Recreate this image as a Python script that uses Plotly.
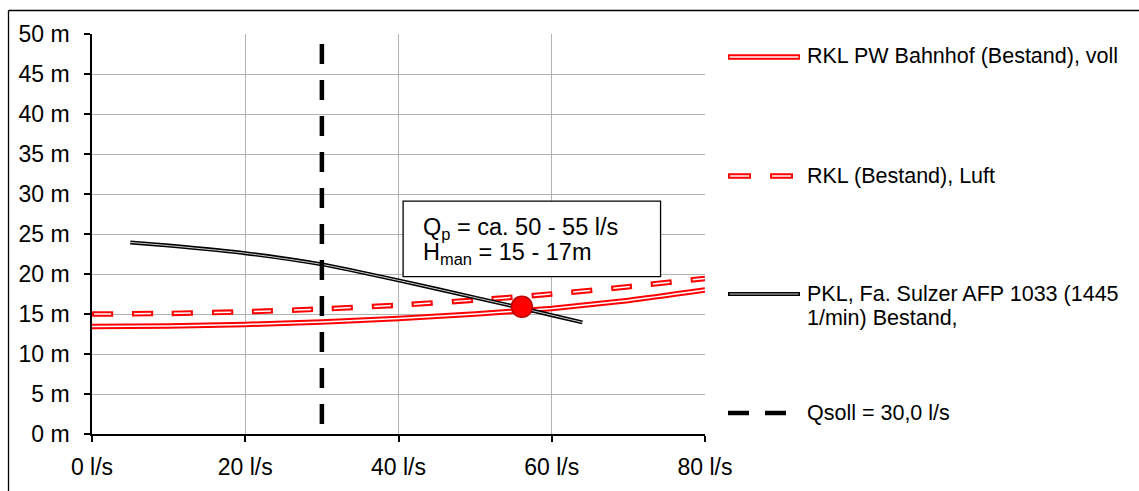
import plotly.graph_objects as go

# ---------------- data ----------------
q_rkl = [0, 10, 20, 30, 40, 50, 60, 70, 80]
h_rkl_voll = [13.45, 13.5, 13.7, 14.0, 14.45, 15.0, 15.7, 16.7, 18.0]
h_rkl_luft = [15.0, 15.07, 15.28, 15.63, 16.11, 16.74, 17.5, 18.41, 19.45]

q_pkl = [5, 10, 20, 30, 40, 50, 56, 60, 64]
h_pkl = [23.95, 23.55, 22.6, 21.2, 19.2, 17.05, 15.75, 14.85, 13.95]

q_soll = [30, 30]
h_soll = [48.75, 0]

q_op = [56.1]
h_op = [15.9]

names = [
    "RKL PW Bahnhof (Bestand), voll",
    "RKL (Bestand), Luft",
    "PKL, Fa. Sulzer AFP 1033 (1445<br>1/min) Bestand,",
    "Qsoll = 30,0 l/s",
]

x_tickvals = [0, 20, 40, 60, 80]
x_ticktext = ["0 l/s", "20 l/s", "40 l/s", "60 l/s", "80 l/s"]
y_tickvals = [0, 5, 10, 15, 20, 25, 30, 35, 40, 45, 50]
y_ticktext = ["0 m", "5 m", "10 m", "15 m", "20 m", "25 m", "30 m", "35 m", "40 m", "45 m", "50 m"]

box_text1 = "Q<sub>p</sub> = ca. 50 - 55 l/s"
box_text2 = "H<sub>man</sub> = 15 - 17m"
box_x = [40.6, 74.2]
box_y = [19.66, 29.1]

# ---------------- layout geometry ----------------
W, H = 1139, 491
L, R, T, B = 92, 434, 34, 57
PW, PH = W - L - R, H - T - B


def px(x):
    return (x - L) / PW


def py(y):
    return (H - B - y) / PH


FONT = "Liberation Sans, Arial, sans-serif"
RED = "#FF0000"

fig = go.Figure()

# red solid (double line)
fig.add_trace(go.Scatter(x=q_rkl, y=h_rkl_voll, mode="lines", name=names[0],
                         line=dict(color=RED, width=5.5, shape="spline", smoothing=0.6),
                         showlegend=False, hoverinfo="skip"))
fig.add_trace(go.Scatter(x=q_rkl, y=h_rkl_voll, mode="lines",
                         line=dict(color="white", width=1.5, shape="spline", smoothing=0.6),
                         showlegend=False, hoverinfo="skip"))
# red dashed (double line)
fig.add_trace(go.Scatter(x=q_rkl, y=h_rkl_luft, mode="lines", name=names[1],
                         line=dict(color=RED, width=5.5, dash="21px,19px", shape="spline", smoothing=0.6),
                         showlegend=False, hoverinfo="skip"))
fig.add_trace(go.Scatter(x=q_rkl, y=h_rkl_luft, mode="lines",
                         line=dict(color="white", width=1.5, dash="0px,2px,17px,21px", shape="spline", smoothing=0.6),
                         showlegend=False, hoverinfo="skip"))
# black pump curve
fig.add_trace(go.Scatter(x=q_pkl, y=h_pkl, mode="lines", name=names[2],
                         line=dict(color="black", width=4, shape="spline", smoothing=0.6),
                         showlegend=False, hoverinfo="skip"))
fig.add_trace(go.Scatter(x=q_pkl, y=h_pkl, mode="lines",
                         line=dict(color="#E8E8E8", width=0.9, shape="spline", smoothing=0.6),
                         showlegend=False, hoverinfo="skip"))
# Qsoll
fig.add_trace(go.Scatter(x=q_soll, y=h_soll, mode="lines", name=names[3],
                         line=dict(color="black", width=4.5, dash="20px,16px"),
                         showlegend=False, hoverinfo="skip"))
# operating point
fig.add_trace(go.Scatter(x=q_op, y=h_op, mode="markers",
                         marker=dict(size=21, color=RED, line=dict(color="#C00000", width=1.5)),
                         showlegend=False, hoverinfo="skip"))

shapes = []
annotations = []

# outer border (left and top edges)
shapes.append(dict(type="line", xref="paper", yref="paper",
                   x0=px(8.5), x1=px(8.5), y0=py(H + 2), y1=py(10.5),
                   line=dict(color="black", width=1.3)))
shapes.append(dict(type="line", xref="paper", yref="paper",
                   x0=px(8.5), x1=px(W + 2), y0=py(10.5), y1=py(10.5),
                   line=dict(color="black", width=1.3)))

# text box
shapes.append(dict(type="rect", xref="x", yref="y",
                   x0=box_x[0], x1=box_x[1], y0=box_y[0], y1=box_y[1],
                   line=dict(color="black", width=1.3), fillcolor="white", layer="above"))
annotations.append(dict(xref="x", yref="y", x=43.0, y=25.7, xanchor="left", yanchor="middle",
                        text=box_text1, showarrow=False, font=dict(family=FONT, size=23.5, color="black")))
annotations.append(dict(xref="x", yref="y", x=43.0, y=22.6, xanchor="left", yanchor="middle",
                        text=box_text2, showarrow=False, font=dict(family=FONT, size=23.5, color="black")))


# legend (manual)
def seg(x0, x1, y, color, width):
    shapes.append(dict(type="line", xref="paper", yref="paper",
                       x0=px(x0), x1=px(x1), y0=py(y), y1=py(y),
                       line=dict(color=color, width=width)))


# entry 1: red solid double
seg(728, 800, 57, RED, 5.5)
seg(729.5, 798.5, 57, "white", 1.5)
# entry 2: red dashed double
for a, b in [(728, 751), (770, 793)]:
    seg(a, b, 176, RED, 5.5)
    seg(a + 2, b - 2, 176, "white", 1.5)
# entry 3: black double
seg(728, 800, 294, "black", 4)
seg(729.5, 798.5, 294, "#E8E8E8", 0.9)
# entry 4: black dashes
for a, b in [(728, 749), (765, 786)]:
    seg(a, b, 413, "black", 4.5)

leg_font = dict(family=FONT, size=21.5, color="black")
for text, y in [(names[0], 56), (names[1], 176),
                ("PKL, Fa. Sulzer AFP 1033 (1445", 294), ("1/min) Bestand,", 318),
                (names[3], 413)]:
    annotations.append(dict(xref="paper", yref="paper", x=px(805), y=py(y),
                            xanchor="left", yanchor="middle", text=text,
                            showarrow=False, font=leg_font))

fig.update_layout(
    width=W, height=H,
    margin=dict(l=L, r=R, t=T, b=B),
    paper_bgcolor="white", plot_bgcolor="white",
    font=dict(family=FONT, size=23, color="black"),
    shapes=shapes, annotations=annotations,
    xaxis=dict(range=[0, 80], tickvals=x_tickvals, ticktext=x_ticktext,
               showgrid=True, gridcolor="#B3B3B3", gridwidth=1,
               showline=True, linecolor="black", linewidth=1.5,
               ticks="outside", ticklen=6, tickwidth=1.5, tickcolor="black",
               zeroline=False, ticklabelstandoff=6,
               tickfont=dict(family=FONT, size=23, color="black")),
    yaxis=dict(range=[0, 50], tickvals=y_tickvals, ticktext=y_ticktext,
               showgrid=True, gridcolor="#B3B3B3", gridwidth=1,
               showline=True, linecolor="black", linewidth=1.5,
               ticks="outside", ticklen=6, tickwidth=1.5, tickcolor="black",
               zeroline=False, ticklabelstandoff=10,
               tickfont=dict(family=FONT, size=23, color="black")),
)

fig.write_html("out.html")
